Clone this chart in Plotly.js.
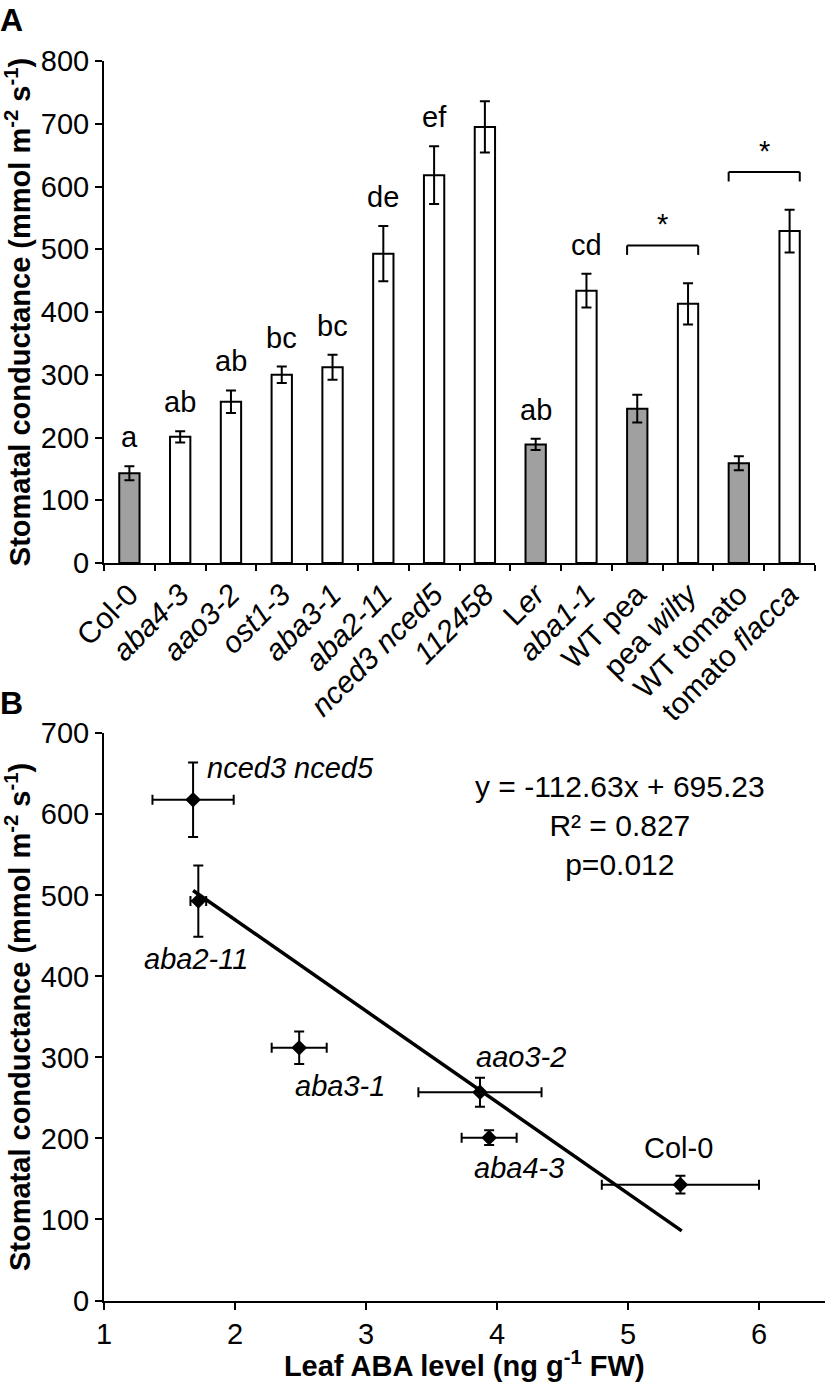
<!DOCTYPE html>
<html>
<head>
<meta charset="utf-8">
<script src="https://cdn.plot.ly/plotly-3.0.1.min.js"></script>
<style>
html,body{margin:0;padding:0;background:#ffffff;}
#chart{width:826px;height:1382px;}
</style>
</head>
<body>
<div id="chart"></div>
<script>
// ---------- Panel A data ----------
const genotypes = ['Col-0','aba4-3','aao3-2','ost1-3','aba3-1','aba2-11','nced3 nced5','112458','Ler','aba1-1','WT pea','pea wilty','WT tomato','tomato flacca'];
const genotypeLabels = ['Col-0','<i>aba4-3</i>','<i>aao3-2</i>','<i>ost1-3</i>','<i>aba3-1</i>','<i>aba2-11</i>','<i>nced3 nced5</i>','<i>112458</i>','L<i>er</i>','<i>aba1-1</i>','WT pea','pea <i>wilty</i>','WT tomato','tomato <i>flacca</i>'];
const conductance   = [143, 201, 257, 300, 312, 493, 618, 695, 189, 434, 246, 413, 159, 529];
const conductanceSE = [ 11,   9,  18,  13,  20,  44,  46,  41,   9,  27,  22,  33,  11,  34];
const sigLetters    = ['a','ab','ab','bc','bc','de','ef','f','ab','cd','','','',''];
const wildTypes     = ['Col-0','Ler','WT pea','WT tomato'];
const pairedTests   = [['WT pea','pea wilty','*'],['WT tomato','tomato flacca','*']];
const yTicksA       = [0,100,200,300,400,500,600,700,800];

// ---------- Panel B data ----------
const scatterGenotypes = ['Col-0','aba4-3','aao3-2','aba3-1','aba2-11','nced3 nced5'];
const scatterLabels    = ['Col-0','<i>aba4-3</i>','<i>aao3-2</i>','<i>aba3-1</i>','<i>aba2-11</i>','<i>nced3 nced5</i>'];
const leafABA      = [5.40, 3.94, 3.87, 2.49, 1.72, 1.68];
const leafABASE    = [0.60, 0.21, 0.47, 0.21, 0.06, 0.31];
const scatterGs    = [143, 201, 257, 312, 493, 618];
const scatterGsSE  = [ 11,   9,  18,  20,  44,  46];
const fitX         = [1.68, 5.41];
const fitY         = [506, 86];
const fitText      = ['y = -112.63x + 695.23','R² = 0.827','p=0.012'];
const xTicksB      = [1,2,3,4,5,6];
const yTicksB      = [0,100,200,300,400,500,600,700];

// ---------- styling / layout ----------
const FONT = 'Liberation Sans, Arial, Helvetica, sans-serif';
const W = 826, H = 1382, ML = 104;
const PW = W - ML;
const px = v => v / PW;               // horizontal pixel -> paper (plot area)
const py = v => 1 - v / H;            // vertical pixel -> paper

const barColors = genotypes.map(g => wildTypes.includes(g) ? '#a0a0a0' : '#ffffff');

const traces = [
  {
    type: 'bar', x: genotypes, y: conductance,
    xaxis: 'x', yaxis: 'y', width: 0.4,
    marker: {color: barColors, line: {color: '#000000', width: 2}},
    error_y: {type: 'data', array: conductanceSE, visible: true, color: '#000000', thickness: 2, width: 5},
    hoverinfo: 'x+y', showlegend: false
  },
  {
    type: 'scatter', mode: 'lines', x: fitX, y: fitY,
    xaxis: 'x2', yaxis: 'y2',
    line: {color: '#000000', width: 3.5}, showlegend: false, hoverinfo: 'skip'
  },
  {
    type: 'scatter', mode: 'markers', x: leafABA, y: scatterGs, text: scatterGenotypes,
    xaxis: 'x2', yaxis: 'y2',
    marker: {symbol: 'diamond', size: 12, color: '#000000'},
    error_x: {type: 'data', array: leafABASE, visible: true, color: '#000000', thickness: 2, width: 5},
    error_y: {type: 'data', array: scatterGsSE, visible: true, color: '#000000', thickness: 2, width: 5},
    showlegend: false
  }
];

const annotations = [];
const shapes = [];
const LBL = 29;

// significance letters
genotypes.forEach((g, i) => {
  if (!sigLetters[i]) return;
  annotations.push({
    xref: 'x', yref: 'y', x: g, y: conductance[i] + conductanceSE[i],
    text: sigLetters[i], showarrow: false, yanchor: 'middle', yshift: 29,
    font: {family: FONT, size: LBL, color: '#000'}
  });
});

// paired comparison brackets
pairedTests.forEach(([a, b, mark]) => {
  const i0 = genotypes.indexOf(a), i1 = genotypes.indexOf(b);
  const top = Math.max(conductance[i0] + conductanceSE[i0], conductance[i1] + conductanceSE[i1]);
  const yb = top + 60, leg = 15;
  const xl = i0 - 0.2, xr = i1 + 0.2;
  const ln = {color: '#000', width: 2};
  shapes.push({type: 'line', xref: 'x', yref: 'y', x0: xl, x1: xr, y0: yb, y1: yb, line: ln});
  shapes.push({type: 'line', xref: 'x', yref: 'y', x0: xl, x1: xl, y0: yb, y1: yb - leg, line: ln});
  shapes.push({type: 'line', xref: 'x', yref: 'y', x0: xr, x1: xr, y0: yb, y1: yb - leg, line: ln});
  annotations.push({
    xref: 'x', yref: 'y', x: (i0 + i1) / 2, y: yb + 34, text: mark, showarrow: false,
    yanchor: 'middle', font: {family: FONT, size: LBL, color: '#000'}
  });
});

// scatter point labels (placement)
const labelPlace = {
  'nced3 nced5': {x: 1.77, y: 657, xanchor: 'left'},
  'aba2-11':     {x: 1.705, y: 422, xanchor: 'center'},
  'aba3-1':      {x: 2.80, y: 265, xanchor: 'center'},
  'aao3-2':      {x: 4.18, y: 301, xanchor: 'center'},
  'aba4-3':      {x: 4.17, y: 163, xanchor: 'center'},
  'Col-0':       {x: 5.385, y: 188, xanchor: 'center'}
};
scatterGenotypes.forEach((g, i) => {
  const p = labelPlace[g];
  annotations.push({
    xref: 'x2', yref: 'y2', x: p.x, y: p.y, xanchor: p.xanchor, yanchor: 'middle',
    text: scatterLabels[i], showarrow: false, font: {family: FONT, size: LBL, color: '#000'}
  });
});

// regression text
annotations.push({
  xref: 'x2', yref: 'y2', x: 4.94, y: 586, xanchor: 'center', yanchor: 'middle',
  text: fitText.join('<br>'), showarrow: false, align: 'center',
  font: {family: FONT, size: 30, color: '#000'}
});

// panel letters
annotations.push({xref: 'paper', yref: 'paper', x: px(-ML - 2), y: py(0), xanchor: 'left', yanchor: 'top',
  text: '<b>A</b>', showarrow: false, font: {family: FONT, size: 32, color: '#000'}});
annotations.push({xref: 'paper', yref: 'paper', x: px(-ML - 2), y: py(683), xanchor: 'left', yanchor: 'top',
  text: '<b>B</b>', showarrow: false, font: {family: FONT, size: 32, color: '#000'}});

const tickFont = {family: FONT, size: 29, color: '#000'};
const catTickFont = {family: FONT, size: 30, color: '#000'};
const titleFont = {family: FONT, size: 29, color: '#000', weight: 'bold'};
const yTitle = 'Stomatal conductance (mmol m<sup>-2</sup> s<sup>-1</sup>)';

const layout = {
  width: W, height: H,
  margin: {l: ML, r: 0, t: 0, b: 0, pad: 0},
  paper_bgcolor: '#fff', plot_bgcolor: 'rgba(0,0,0,0)',
  font: {family: FONT, color: '#000'},
  showlegend: false,
  xaxis: {
    domain: [0, px(711)], anchor: 'y', type: 'category',
    range: [-0.5, genotypes.length - 0.5],
    tickvals: genotypes, ticktext: genotypeLabels, tickangle: -45,
    tickson: 'boundaries', ticks: 'outside', ticklen: 6, tickwidth: 2, tickcolor: '#000',
    showline: true, linecolor: '#000', linewidth: 2, showgrid: false, zeroline: false,
    tickfont: catTickFont
  },
  yaxis: {
    domain: [py(563), py(61)], anchor: 'x', range: [0, 800],
    tickvals: yTicksA, ticks: 'outside', ticklen: 7, tickwidth: 2, tickcolor: '#000',
    showline: true, linecolor: '#000', linewidth: 2, showgrid: false, zeroline: false,
    tickfont: tickFont,
    title: {text: yTitle, font: titleFont, standoff: 7}
  },
  xaxis2: {
    domain: [0, px(720.5)], anchor: 'y2', range: [1, 6.5],
    tickvals: xTicksB, ticks: 'outside', ticklen: 7, tickwidth: 2, tickcolor: '#000',
    showline: true, linecolor: '#000', linewidth: 2, showgrid: false, zeroline: false,
    tickfont: tickFont,
    title: {text: 'Leaf ABA level (ng g<sup>-1</sup> FW)', font: titleFont, standoff: 5}
  },
  yaxis2: {
    domain: [py(1300.5), py(733.3)], anchor: 'x2', range: [0, 700],
    tickvals: yTicksB, ticks: 'outside', ticklen: 7, tickwidth: 2, tickcolor: '#000',
    showline: true, linecolor: '#000', linewidth: 2, showgrid: false, zeroline: false,
    tickfont: tickFont,
    title: {text: yTitle, font: titleFont, standoff: 7}
  },
  annotations: annotations,
  shapes: shapes
};

Plotly.newPlot('chart', traces, layout, {displayModeBar: false, staticPlot: true});
</script>
</body>
</html>
